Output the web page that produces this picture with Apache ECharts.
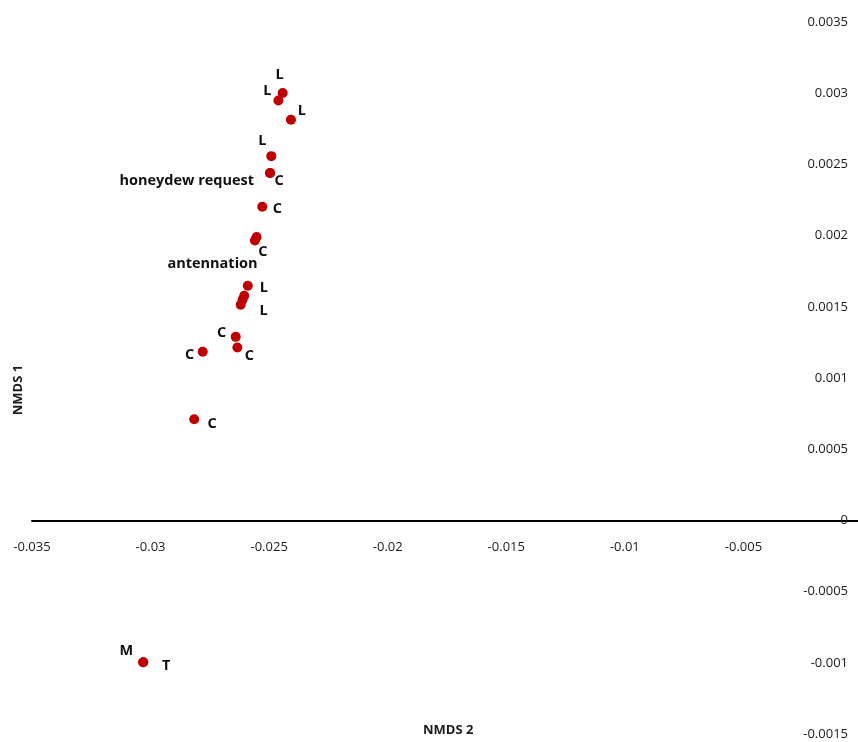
<!DOCTYPE html>
<html>
<head>
<meta charset="utf-8">
<script src="https://cdn.jsdelivr.net/npm/echarts@6/dist/echarts.min.js"></script>
<style>
html,body{margin:0;padding:0;background:#fff;}
#chart{width:858px;height:742px;}
</style>
</head>
<body>
<div id="chart"></div>
<script>
// NMDS 2 (x) values
const xValues = [-0.02443, -0.02461, -0.02408, -0.02491, -0.02496, -0.02496, -0.02529, -0.02553, -0.02560, -0.02590, -0.02605, -0.02612, -0.02620, -0.02641, -0.02634, -0.02780, -0.02816, -0.03031, -0.03031];
// NMDS 1 (y) values
const yValues = [0.003001, 0.002949, 0.002813, 0.002558, 0.002440, 0.002440, 0.002203, 0.001990, 0.001965, 0.001648, 0.001577, 0.001549, 0.001514, 0.001289, 0.001214, 0.001184, 0.000710, -0.000996, -0.000996];
// point labels
const pointLabels = ['L', 'L', 'L', 'L', 'C', 'honeydew request', 'C', 'antennation', 'C', 'L', '', '', 'L', 'C', 'C', 'C', 'C', 'M', 'T'];
// axis ticks
const xTicks = { min: -0.035, max: 0, step: 0.005 };
const yTicks = { min: -0.0015, max: 0.0035, step: 0.0005 };
const xTitle = 'NMDS 2';
const yTitle = 'NMDS 1';

// label placement (layout only): [dx, dy, align]
const labelPlacement = [
  [-3, -18, 'center'], [-11, -10, 'center'], [11, -9, 'center'], [-9, -15, 'center'],
  [9, 8, 'center'], [-16, 8, 'right'], [15, 2, 'center'], [1, 27, 'right'],
  [8, 11, 'center'], [16, 2, 'center'], [0, 0, 'center'], [0, 0, 'center'],
  [23, 6, 'center'], [-14, -4, 'center'], [12, 8, 'center'], [-13, 3, 'center'],
  [18, 5, 'center'], [-17, -11, 'center'], [23, 4, 'center']
];

const fmt = v => String(+Number(v).toFixed(5));

const data = xValues.map((x, i) => ({
  value: [x, yValues[i]],
  label: {
    show: pointLabels[i] !== '',
    formatter: pointLabels[i],
    position: 'inside',
    offset: [labelPlacement[i][0], labelPlacement[i][1]],
    align: labelPlacement[i][2],
    verticalAlign: 'middle'
  }
}));

const GRID_H = 712;
// distance from the grid bottom to the zero line
const zeroOffset = -GRID_H * (0 - yTicks.min) / (yTicks.max - yTicks.min);

const chart = echarts.init(document.getElementById('chart'), null, { renderer: 'canvas' });
chart.setOption({
  backgroundColor: '#ffffff',
  animation: false,
  grid: { left: 32, top: 22, width: 830, height: GRID_H, containLabel: false, outerBoundsMode: 'none' },
  xAxis: {
    type: 'value',
    position: 'bottom',
    offset: zeroOffset,
    min: xTicks.min, max: xTicks.max, interval: xTicks.step,
    axisLine: { show: true, onZero: false, lineStyle: { color: '#000', width: 2 } },
    axisTick: { show: false },
    splitLine: { show: false },
    axisLabel: {
      margin: 20,
      color: '#1a1a1a',
      fontFamily: 'Open Sans',
      fontSize: 13,
      formatter: v => (Math.abs(v) < 1e-12 ? '' : fmt(v))
    }
  },
  yAxis: {
    type: 'value',
    position: 'right',
    min: yTicks.min, max: yTicks.max, interval: yTicks.step,
    axisLine: { show: false },
    axisTick: { show: false },
    splitLine: { show: false },
    axisLabel: {
      inside: true,
      margin: 14,
      color: '#1a1a1a',
      fontFamily: 'Open Sans',
      fontSize: 13,
      formatter: v => (Math.abs(v) < 1e-12 ? '0' : fmt(v))
    }
  },
  graphic: [
    { type: 'text', left: 423, top: 724, style: { text: xTitle, font: 'bold 13px "Open Sans"', fill: '#1a1a1a' } },
    { type: 'text', x: 18, y: 390, rotation: Math.PI / 2, style: { text: yTitle, font: 'bold 13px "Open Sans"', fill: '#1a1a1a', textAlign: 'center', textVerticalAlign: 'middle' } }
  ],
  series: [{
    type: 'scatter',
    symbol: 'circle',
    symbolSize: 10,
    itemStyle: { color: '#C00000', opacity: 1 },
    label: {
      color: '#111',
      fontFamily: 'Open Sans',
      fontWeight: 'bold',
      fontSize: 14.5
    },
    data: data
  }]
});
</script>
</body>
</html>
